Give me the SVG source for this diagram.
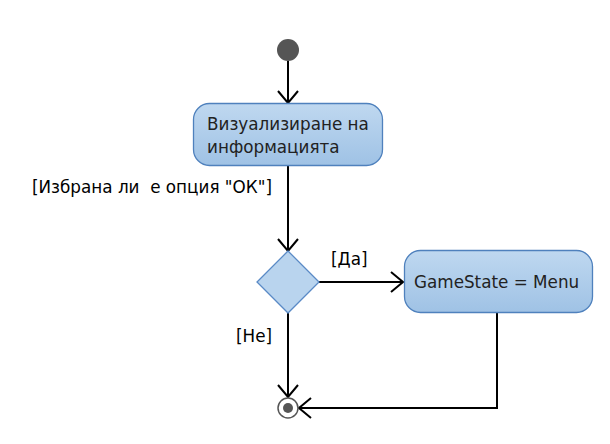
<svg xmlns="http://www.w3.org/2000/svg" width="610" height="444" viewBox="0 0 610 444">
<defs>
<linearGradient id="g" x1="0" y1="0" x2="0" y2="1">
<stop offset="0" stop-color="#bfd8f0"/>
<stop offset="1" stop-color="#9fc2e5"/>
</linearGradient>
<marker id="arr" viewBox="0 0 14 22" refX="13" refY="11" markerWidth="14" markerHeight="22" markerUnits="userSpaceOnUse" orient="auto">
<path d="M1,1 L13,11 L1,21" fill="none" stroke="#000" stroke-width="2"/>
</marker>
</defs>
<style>
.act{fill:url(#g);stroke:#4f81bd;stroke-width:1.3}
.t{font-family:"DejaVu Sans",Verdana,sans-serif;font-size:16.8px;fill:#222}
.l{font-family:"DejaVu Sans",Verdana,sans-serif;font-size:16.8px;fill:#000;white-space:pre}
.c{fill:none;stroke:#000;stroke-width:2;marker-end:url(#arr)}
</style>
<rect width="610" height="444" fill="#fff"/>
<g id="connectors">
<line class="c" x1="288" y1="61" x2="288" y2="103"/>
<line class="c" x1="288" y1="166" x2="288" y2="251"/>
<line class="c" x1="319" y1="282" x2="403" y2="282"/>
<line class="c" x1="288" y1="313" x2="288" y2="397"/>
<polyline class="c" points="497,313 497,408 299,408"/>
<text class="l" x="32" y="193" xml:space="preserve">[Избрана ли  е опция "ОК"]</text>
<text class="l" x="331" y="265">[Да]</text>
<text class="l" x="236" y="342">[Не]</text>
</g>
<g id="start"><circle cx="288" cy="50" r="11" fill="#555"/></g>
<g id="action1">
<rect class="act" x="193.5" y="103.5" width="189" height="62" rx="16"/>
<text class="t" x="207" y="130">Визуализиране на</text>
<text class="t" x="207" y="153">информацията</text>
</g>
<g id="decision"><polygon points="288,251 319,282 288,313 257,282" fill="#b9d4ee" stroke="#5a8ac6" stroke-width="1.3"/></g>
<g id="action2">
<rect class="act" x="404.5" y="250.5" width="188" height="62" rx="16"/>
<text class="t" x="414" y="288">GameState = Menu</text>
</g>
<g id="end">
<circle cx="288" cy="408" r="10" fill="#fff" stroke="#555" stroke-width="1.5"/>
<circle cx="288" cy="408" r="5" fill="#555"/>
</g>
</svg>
